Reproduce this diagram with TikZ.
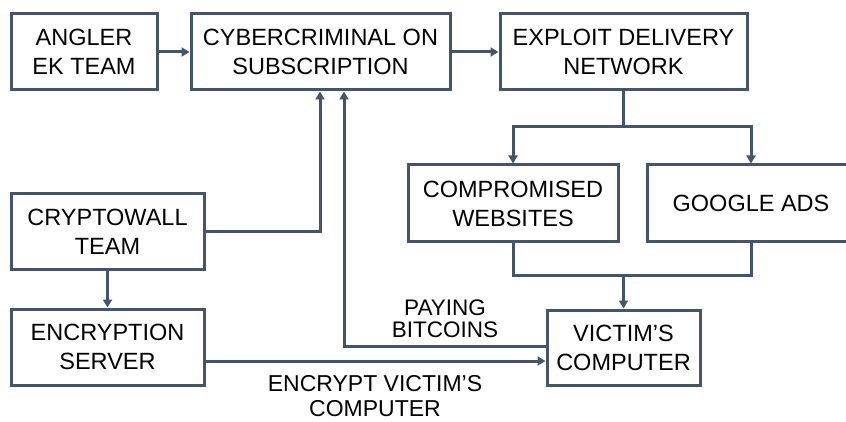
\documentclass[tikz,border=0pt]{standalone}
\usepackage{fontspec}
\setmainfont{Liberation Sans}
\usetikzlibrary{arrows.meta}
\definecolor{lc}{HTML}{44546A}
\begin{document}
\begin{tikzpicture}[x=1pt,y=-1pt,
  box/.style={draw=lc, line width=3pt, fill=white, inner sep=0pt, align=center,
    font=\fontsize{23.5}{29}\selectfont},
  lbl/.style={align=center, font=\fontsize{22.5}{22}\selectfont, inner sep=0pt},
  conn/.style={draw=lc, line width=3pt},
  arr/.style={conn, -{Triangle[length=8pt,width=9pt]}}]
\useasboundingbox (0,0) rectangle (846,422);
\node[box, minimum width=146pt, minimum height=76pt] (angler) at (84,52) {ANGLER\\EK TEAM};
\node[box, minimum width=259pt, minimum height=76pt] (cyber) at (320.5,52) {CYBERCRIMINAL ON\\SUBSCRIPTION};
\node[box, minimum width=247pt, minimum height=76pt] (exploit) at (623.5,52) {EXPLOIT DELIVERY\\NETWORK};
\node[box, minimum width=210pt, minimum height=77pt] (comp) at (513,203.5) {COMPROMISED\\WEBSITES};
\node[box, minimum width=208pt, minimum height=77pt] (google) at (751,203.5) {GOOGLE ADS};
\node[box, minimum width=153pt, minimum height=75pt] (victim) at (623.5,347.5) {VICTIM’S\\COMPUTER};
\node[box, minimum width=193pt, minimum height=75pt] (crypto) at (107.5,231.5) {CRYPTOWALL\\TEAM};
\node[box, minimum width=193pt, minimum height=76pt] (enc) at (107.5,347) {ENCRYPTION\\SERVER};

\coordinate (split) at (623.5,127);
\coordinate (join) at (623.5,275);

\draw[arr] (angler.east) -- (cyber.west);
\draw[arr] (cyber.east) -- (exploit.west);
\draw[conn] (exploit.south) -- (split);
\draw[arr] (split) -| (comp.north);
\draw[arr] (split) -| (google.north);
\draw[conn] (comp.south) |- (join);
\draw[conn] (google.south) |- (join);
\draw[arr] (join) -- (victim.north);
\draw[arr] (crypto.east |- 0,232) -| (cyber.south -| 320,0);
\draw[arr] (victim.west |- 0,346) -| (cyber.south -| 344,0);
\draw[arr] (crypto.south) -- (enc.north);
\draw[arr] (enc.east |- 0,361) -- (victim.west |- 0,361);

\node[lbl] (pay) at (445,319) {PAYING\\BITCOINS};
\node[lbl, font=\fontsize{23}{25}\selectfont] (encl) at (375,396) {ENCRYPT VICTIM’S\\COMPUTER};
\end{tikzpicture}
\end{document}
